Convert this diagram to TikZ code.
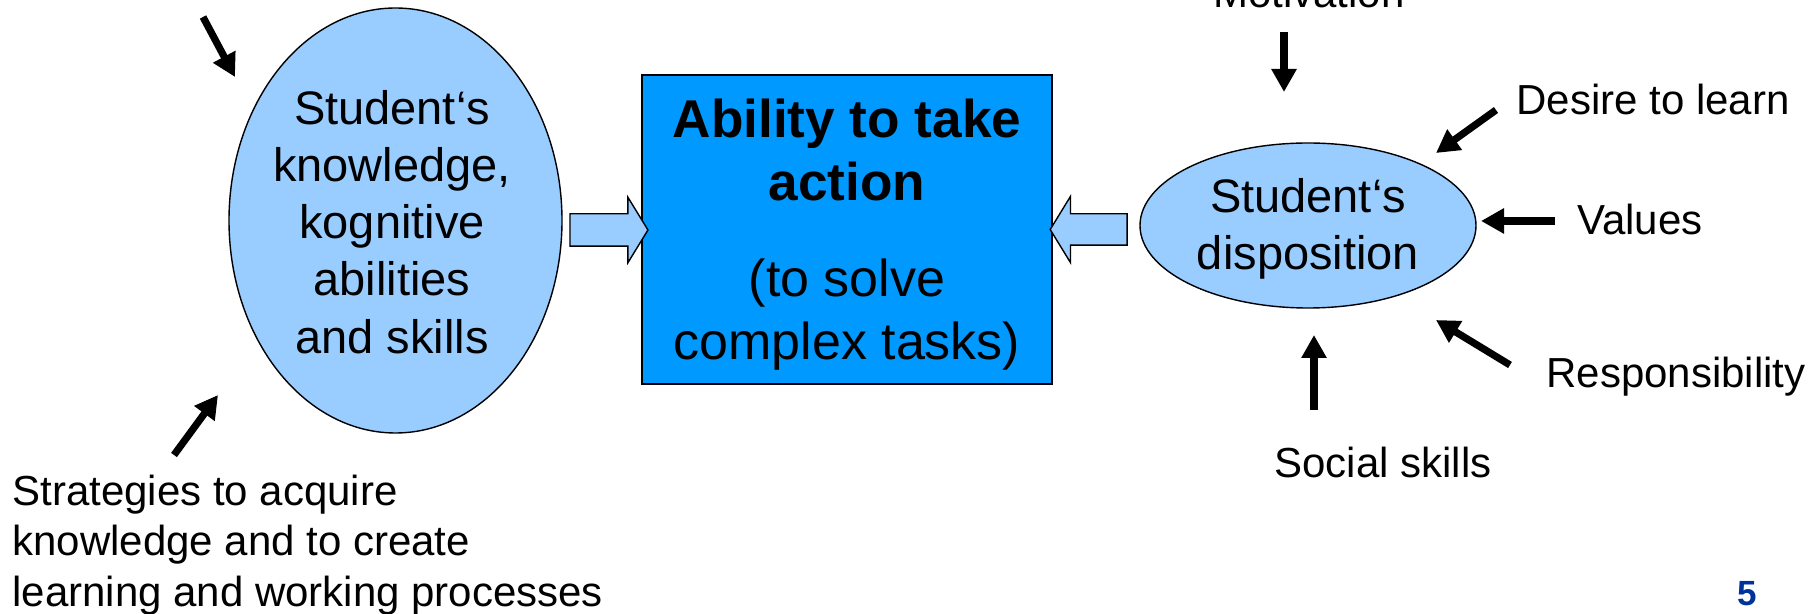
\documentclass[tikz,border=0pt]{standalone}
\usepackage{fontspec}
\setmainfont{Liberation Sans}
\usetikzlibrary{arrows.meta,shapes.geometric,shapes.arrows}
\definecolor{paleblue}{RGB}{153,204,255}
\definecolor{boxblue}{RGB}{0,153,255}
\definecolor{pagenum}{RGB}{0,51,153}
\newcommand\lblfont{\fontsize{21}{25.3}\selectfont}
\newcommand\blobfont{\fontsize{23.5}{28.6}\selectfont}
\newcommand\actfont{\fontsize{26}{31.5}\selectfont}
\newcommand\acttitlefont{\fontsize{26.6}{31.5}\selectfont}
\begin{document}
\begin{tikzpicture}[x=0.5pt,y=-0.5pt,
  blob/.style={ellipse, draw=black, line width=0.7pt, fill=paleblue, inner sep=0pt},
  actbox/.style={rectangle, draw=black, line width=0.8pt, fill=boxblue, inner sep=0pt},
  blocktext/.style={align=center, inner sep=0pt},
  blockarrow/.style={single arrow, draw=black, line width=0.7pt, fill=paleblue,
    inner xsep=0pt, single arrow tip angle=117, single arrow head indent=0pt},
  inarrow/.style={line width=3.6pt, -{Triangle[length=11.5pt,width=12pt]}},
  lbl/.style={inner sep=0pt, font=\lblfont}]
\useasboundingbox (0,0) rectangle (1812,614);

% central block
\node[actbox, minimum width=205pt, minimum height=154.5pt] (act) at (847,229.5) {};
\node[blocktext, font=\acttitlefont\bfseries] (acttitle) at (847,150) {Ability to take\\action};
\node[blocktext, font=\actfont] (actsub) at (847,315) {(to solve\\complex tasks)};

% knowledge ellipse
\node[blob, minimum width=166.5pt, minimum height=212.5pt] (know) at (395.5,220.5) {};
\node[blocktext, font=\blobfont] (knowtxt) at (392,222)
  {Student‘s\\knowledge,\\kognitive\\abilities\\and skills};

% disposition ellipse
\node[blob, minimum width=168pt, minimum height=82.5pt] (disp) at (1308,225.5) {};
\node[blocktext, font=\blobfont] (disptxt) at (1308,229) {Student‘s\\disposition};

% block arrows into the central block
\node[blockarrow, minimum height=39pt, inner ysep=7.75pt,
  single arrow head extend=8.25pt] (know2act) at (604,230) {};
\node[blockarrow, shape border rotate=180, minimum height=38.5pt, inner ysep=7.5pt,
  single arrow head extend=8.75pt] (disp2act) at (1093.5,229.5) {};

% influences on knowledge
\coordinate (tlA) at (203,17);  \coordinate (tlB) at (235,77);
\coordinate (blA) at (174,455); \coordinate (blB) at (218,395);
\draw[inarrow] (tlA) -- (tlB);
\draw[inarrow] (blA) -- (blB);
\node[lbl, align=left, anchor=west] (strat) at (12,545)
  {Strategies to acquire\\knowledge and to create\\learning and working processes};

% influences on disposition
\coordinate (motA) at (1284,32);   \coordinate (motB) at (1284,92);
\coordinate (desA) at (1496,110);  \coordinate (desB) at (1436,153);
\coordinate (valA) at (1555,221);  \coordinate (valB) at (1481,221);
\coordinate (resA) at (1510,365);  \coordinate (resB) at (1436,320);
\coordinate (socA) at (1314,410);  \coordinate (socB) at (1314,335);
\draw[inarrow] (motA) -- (motB);
\draw[inarrow] (desA) -- (desB);
\draw[inarrow] (valA) -- (valB);
\draw[inarrow] (resA) -- (resB);
\draw[inarrow] (socA) -- (socB);

\node[lbl, anchor=base] (mot) at (1309,8) {Motivation};
\node[lbl, anchor=base west] (des) at (1516,115) {Desire to learn};
\node[lbl, anchor=base west] (val) at (1577,235) {Values};
\node[lbl, anchor=base west] (res) at (1546,388) {Responsibility};
\node[lbl, anchor=base west] (soc) at (1274,478) {Social skills};

% page number
\node[inner sep=0pt, anchor=base, text=pagenum, font=\fontsize{17.5}{20}\selectfont\bfseries]
  (pg) at (1747,606) {5};
\end{tikzpicture}
\end{document}
